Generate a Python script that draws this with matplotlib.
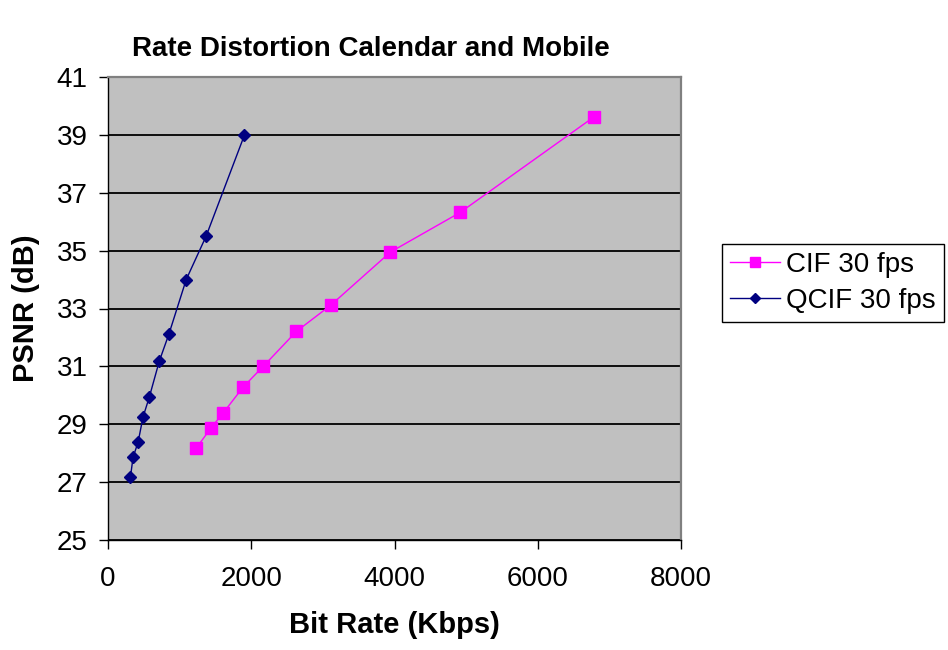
import matplotlib
matplotlib.use("Agg")
from matplotlib import pyplot as plt

plt.rcParams['font.family'] = ['Liberation Sans', 'DejaVu Sans']

# rate distortion points (bit rate in Kbps, PSNR in dB)
cif_rate = [1231, 1440, 1611, 1889, 2167, 2631, 3108, 3943, 4917, 6790]
cif_psnr = [28.17, 28.88, 29.40, 30.29, 31.00, 32.21, 33.11, 34.95, 36.32, 39.63]
qcif_rate = [313, 350, 420, 489, 577, 716, 851, 1092, 1370, 1903]
qcif_psnr = [27.17, 27.86, 28.38, 29.25, 29.94, 31.18, 32.12, 34.00, 35.50, 38.98]

x_ticks = [0, 2000, 4000, 6000, 8000]
y_ticks = list(range(25, 42, 2))

fig = plt.figure(figsize=(9.48, 6.5), dpi=100)
ax = fig.add_axes([108/948, 1 - 540/650, 573/948, 463/650])
ax.set_facecolor('#c0c0c0')

ax.plot(cif_rate, cif_psnr, color='#ff00ff', lw=1, marker='s', ms=9,
        mec='#ff00ff', mfc='#ff00ff', label='CIF 30 fps')
ax.plot(qcif_rate, qcif_psnr, color='#000080', lw=1, marker='D', ms=6.5,
        mec='#000080', mfc='#000080', label='QCIF 30 fps')

ax.set_xlim(0, 8000)
ax.set_ylim(25, 41)
ax.set_xticks(x_ticks)
ax.set_yticks(y_ticks)
ax.tick_params(labelsize=20, direction='out', length=6.5, width=1, color='black')
ax.tick_params(axis='y', pad=8)
ax.tick_params(axis='x', pad=12)
ax.yaxis.grid(True, color='black', lw=1.3)
ax.set_axisbelow(True)

# plot area border: black axes on left/bottom, gray frame on top/right
for s in ['top', 'right']:
    ax.spines[s].set_color('#808080')
    ax.spines[s].set_linewidth(1.6)
for s in ['left', 'bottom']:
    ax.spines[s].set_color('black')
    ax.spines[s].set_linewidth(1)

ax.set_xlabel('Bit Rate (Kbps)', fontsize=21, fontweight='bold', labelpad=14)
ax.set_ylabel('PSNR (dB)', fontsize=21, fontweight='bold', labelpad=12)
fig.text(371/948, 1 - 49/650, 'Rate Distortion Calendar and Mobile',
         ha='center', va='center', fontsize=20, fontweight='bold')

leg = ax.legend(loc='center left', bbox_to_anchor=(722/948, 1 - 283/650),
                bbox_transform=fig.transFigure, fontsize=20, frameon=True,
                fancybox=False, edgecolor='black', framealpha=1,
                handlelength=1.8, borderpad=0.3, labelspacing=0.35,
                handletextpad=0.2, borderaxespad=0, markerscale=0.8)
leg.get_frame().set_linewidth(1)

plt.savefig("out.png", dpi=100)
